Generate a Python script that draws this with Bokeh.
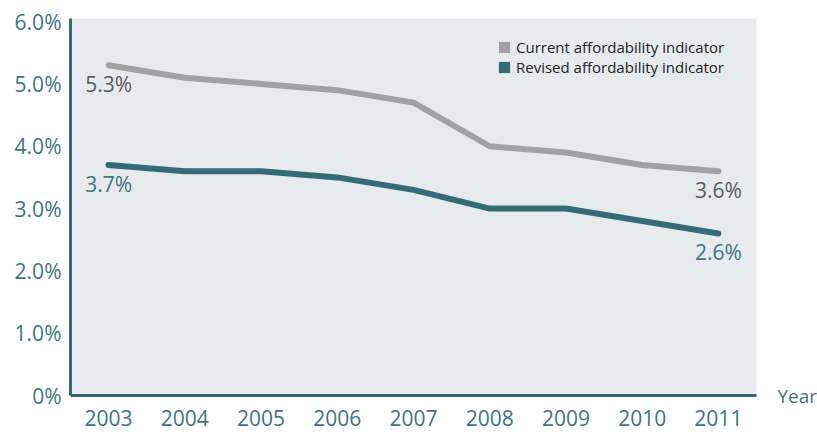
from bokeh.plotting import figure
from bokeh.models import Range1d, FixedTicker, Legend, LegendItem, Label, ColumnDataSource
from bokeh.core.properties import value
from bokeh.embed import file_html
from bokeh.resources import INLINE

years = [2003, 2004, 2005, 2006, 2007, 2008, 2009, 2010, 2011]
current = [5.3, 5.1, 5.0, 4.9, 4.7, 4.0, 3.9, 3.7, 3.6]
revised = [3.7, 3.6, 3.6, 3.5, 3.3, 3.0, 3.0, 2.8, 2.6]
y_ticks = [0, 1, 2, 3, 4, 5, 6]
y_tick_labels = ["0%", "1.0%", "2.0%", "3.0%", "4.0%", "5.0%", "6.0%"]
series_names = ["Current affordability indicator", "Revised affordability indicator"]
x_title = "Year"

FONT = "Open Sans"
GREY = "#a2a2a2"
TEAL = "#336c78"
TEXT_TEAL = "#3d7582"
TEXT_GREY = "#5c5c5c"
BG = "#e8ebee"
NAN = float("nan")

p = figure(width=817, height=432, output_backend="svg", toolbar_location=None,
           x_range=Range1d(2002.5, 2011.5), y_range=Range1d(0, 6.05),
           min_border_left=70, min_border_right=61, min_border_top=18, min_border_bottom=37)
p.background_fill_color = BG
p.border_fill_color = "white"
p.outline_line_color = None
p.grid.visible = False

# axes
p.xaxis.ticker = FixedTicker(ticks=years)
p.yaxis.ticker = FixedTicker(ticks=y_ticks)
p.yaxis.major_label_overrides = {t: l for t, l in zip(y_ticks, y_tick_labels)}
for ax in (p.xaxis[0], p.yaxis[0]):
    ax.axis_line_color = TEAL
    ax.axis_line_width = 3
    ax.major_tick_line_color = None
    ax.minor_tick_line_color = None
    ax.major_label_text_color = TEXT_TEAL
    ax.major_label_text_font = FONT
    ax.major_label_text_font_size = "21px"
p.yaxis.major_label_standoff = 3
p.xaxis.major_label_standoff = 8

# lines
p.line(years, current, line_color=GREY, line_width=6, line_cap="round", line_join="round")
p.line(years, revised, line_color=TEAL, line_width=6, line_cap="round", line_join="round")

# end labels
ann = ColumnDataSource(dict(
    x=[years[0], years[-1], years[0], years[-1]],
    y=[current[0], current[-1], revised[0], revised[-1]],
    t=["%.1f%%" % current[0], "%.1f%%" % current[-1], "%.1f%%" % revised[0], "%.1f%%" % revised[-1]],
    c=[TEXT_GREY, TEXT_GREY, TEXT_TEAL, TEXT_TEAL],
))
p.text(x="x", y="y", text="t", source=ann, text_color="c", text_align="center",
       text_baseline="middle", y_offset=19, text_font=value(FONT), text_font_size="21px")

# legend with square swatches (swatch renderers hold no visible data)
sw1 = p.quad(left=[NAN], right=[NAN], top=[NAN], bottom=[NAN], fill_color=GREY, line_color=None)
sw2 = p.quad(left=[NAN], right=[NAN], top=[NAN], bottom=[NAN], fill_color=TEAL, line_color=None)
legend = Legend(items=[LegendItem(label=series_names[0], renderers=[sw1], index=0),
                       LegendItem(label=series_names[1], renderers=[sw2], index=0)],
                location=(427, 318), orientation="vertical",
                glyph_width=14, glyph_height=14, label_standoff=5, spacing=0,
                label_height=19, padding=0, margin=0,
                label_text_font=FONT, label_text_font_size="15px", label_text_color="#222222",
                background_fill_alpha=0, border_line_color=None)
p.add_layout(legend, "center")

# "Year" axis title, placed in the right-hand side panel
p.add_layout(Label(x=21, y=0, x_units="screen", y_units="screen", text=x_title,
                   text_align="left", text_baseline="middle",
                   text_font=FONT, text_font_size="19px", text_color=TEXT_TEAL), "right")

open("out.html", "w").write(file_html(p, INLINE))
